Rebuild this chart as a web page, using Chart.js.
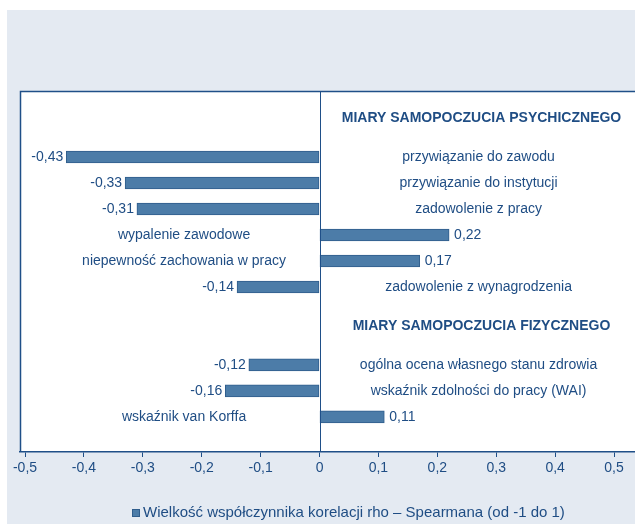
<!DOCTYPE html>
<html>
<head>
<meta charset="utf-8">
<script src="https://cdn.jsdelivr.net/npm/chart.js@4"></script>
<style>
  html, body { margin: 0; padding: 0; background: #ffffff; }
  canvas { display: block; }
</style>
</head>
<body>
<canvas id="rhoChart" width="635" height="524"></canvas>
<script>
// Spearman rho correlations (row order top to bottom, empty rows carry no bar)
const rowLabels = [
  '', '',
  'przywiązanie do zawodu',
  'przywiązanie do instytucji',
  'zadowolenie z pracy',
  'wypalenie zawodowe',
  'niepewność zachowania w pracy',
  'zadowolenie z wynagrodzenia',
  '', '',
  'ogólna ocena własnego stanu zdrowia',
  'wskaźnik zdolności do pracy (WAI)',
  'wskaźnik van Korffa',
  ''
];
const rhoValues = [null, null, -0.43, -0.33, -0.31, 0.22, 0.17, -0.14, null, null, -0.12, -0.16, 0.11, null];
const groupTitles = ['MIARY SAMOPOCZUCIA PSYCHICZNEGO', 'MIARY SAMOPOCZUCIA FIZYCZNEGO'];
const groupTitleRows = [0.5, 8.5];
const xTicks = [-0.5, -0.4, -0.3, -0.2, -0.1, 0, 0.1, 0.2, 0.3, 0.4, 0.5];
const legendLabel = 'Wielkość współczynnika korelacji rho – Spearmana (od -1 do 1)';

const TEXT = '#1f4d84';
const LINE = '#1f4f88';
const BAR = '#4c7ca8';
const BAR_EDGE = '#2f5d8c';
const PANEL = '#e4eaf2';
const FONT = '"Liberation Sans", Arial, sans-serif';

function fmt(v) {
  if (v === 0) return '0';
  return v.toFixed(2).replace('.', ',');
}

// bars keyed by row index so the y scale can be a plain linear one
const barPoints = [];
rhoValues.forEach((v, i) => {
  if (v !== null) barPoints.push({ x: v, y: i });
});

const decorPlugin = {
  id: 'decor',
  beforeDraw(chart) {
    const { ctx, chartArea: a } = chart;
    ctx.save();
    ctx.fillStyle = '#ffffff';
    ctx.fillRect(0, 0, chart.width, chart.height);
    ctx.fillStyle = PANEL;
    ctx.fillRect(7, 10, chart.width - 7, chart.height - 10);
    ctx.fillStyle = '#ffffff';
    ctx.fillRect(a.left, a.top, a.right - a.left, a.bottom - a.top);
    ctx.restore();
  },
  afterDatasetsDraw(chart) {
    const { ctx, chartArea: a } = chart;
    const x = chart.scales.x;
    const y = chart.scales.y;
    ctx.save();
    // frame: left + top, zero line
    ctx.strokeStyle = LINE;
    ctx.lineWidth = 1.5;
    ctx.beginPath();
    ctx.moveTo(a.left + 0.5, a.bottom);
    ctx.lineTo(a.left + 0.5, a.top + 0.5);
    ctx.lineTo(a.right, a.top + 0.5);
    ctx.stroke();
    ctx.lineWidth = 1;
    const x0 = Math.round(x.getPixelForValue(0)) + 0.5;
    ctx.beginPath();
    ctx.moveTo(x0, a.top);
    ctx.lineTo(x0, a.bottom);
    ctx.stroke();

    ctx.fillStyle = TEXT;
    ctx.textBaseline = 'middle';
    // group titles
    ctx.font = 'bold 14px ' + FONT;
    ctx.textAlign = 'center';
    const titleX = x.getPixelForValue(0.275);
    groupTitles.forEach((t, i) => {
      ctx.fillText(t, titleX, y.getPixelForValue(groupTitleRows[i]));
    });

    // values + category labels
    ctx.font = '14px ' + FONT;
    rhoValues.forEach((v, i) => {
      if (v === null) return;
      const by = y.getPixelForValue(i);
      const bx = x.getPixelForValue(v);
      if (v < 0) {
        ctx.textAlign = 'right';
        ctx.fillText(fmt(v), bx - 3, by);
        ctx.textAlign = 'center';
        ctx.fillText(rowLabels[i], x.getPixelForValue(0.27), by);
      } else {
        ctx.textAlign = 'left';
        ctx.fillText(fmt(v), bx + 5, by);
        ctx.textAlign = 'center';
        ctx.fillText(rowLabels[i], x.getPixelForValue(-0.23), by);
      }
    });

    // legend
    ctx.fillStyle = BAR;
    ctx.fillRect(132, 509, 8, 8);
    ctx.strokeStyle = BAR_EDGE;
    ctx.strokeRect(132.5, 509.5, 7, 7);
    ctx.fillStyle = TEXT;
    ctx.textAlign = 'left';
    ctx.font = '15px ' + FONT;
    ctx.fillText(legendLabel, 143, 513);
    ctx.restore();
  }
};

new Chart(document.getElementById('rhoChart'), {
  type: 'bar',
  data: {
    datasets: [{
      label: legendLabel,
      data: barPoints,
      backgroundColor: BAR,
      borderColor: BAR_EDGE,
      borderWidth: 1,
      borderSkipped: false,
      barThickness: 12
    }]
  },
  options: {
    indexAxis: 'y',
    responsive: false,
    animation: false,
    devicePixelRatio: 1,
    layout: { padding: { left: 20, top: 91, right: 0, bottom: 0 } },
    plugins: {
      legend: { display: false },
      tooltip: { enabled: false }
    },
    scales: {
      y: {
        type: 'linear',
        display: false,
        reverse: true,
        offset: false,
        grid: { offset: false },
        min: -0.54,
        max: 13.35
      },
      x: {
        type: 'linear',
        min: -0.5085,
        max: 0.5356,
        afterBuildTicks(scale) {
          scale.ticks = xTicks.map(v => ({ value: v }));
        },
        afterFit(scale) {
          scale.height = 72;
        },
        border: { display: true, color: LINE, width: 1.5 },
        grid: {
          drawOnChartArea: false,
          drawTicks: true,
          tickLength: 5,
          color: LINE
        },
        ticks: {
          color: TEXT,
          padding: 3,
          maxRotation: 0,
          autoSkip: false,
          font: { family: FONT, size: 14 },
          callback: v => v === 0 ? '0' : v.toFixed(1).replace('.', ',')
        }
      }
    }
  },
  plugins: [decorPlugin]
});
</script>
</body>
</html>
